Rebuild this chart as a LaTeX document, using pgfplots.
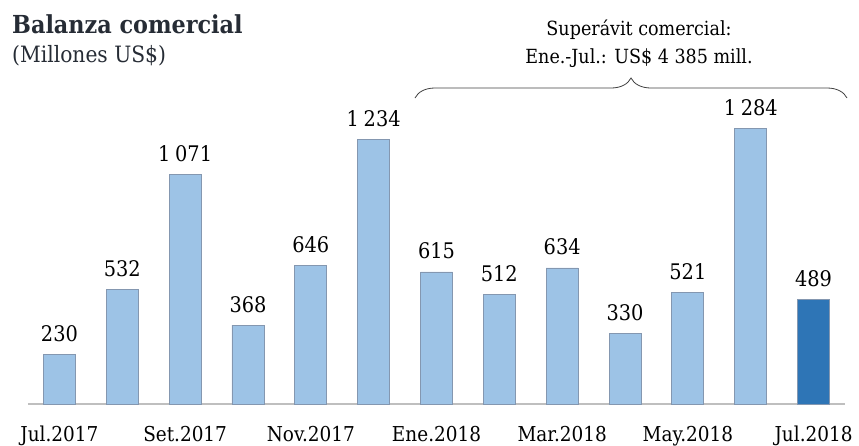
\documentclass[border=0pt]{standalone}
\usepackage{pgfplots}
\pgfplotsset{compat=1.18}
\usepackage{fontspec}
\setmainfont{DejaVu Serif Condensed}
\usetikzlibrary{decorations.pathreplacing}
\definecolor{barlight}{HTML}{9DC3E6}
\definecolor{bardark}{HTML}{2E75B6}
\definecolor{barline}{HTML}{8497B0}
\definecolor{titlecol}{HTML}{262C35}
\definecolor{axisgray}{HTML}{BFBFBF}
\newcommand{\ts}{\hspace{0.22em}}
\begin{document}
\begin{tikzpicture}
\path[use as bounding box] (0,0) rectangle (859pt,-445pt);
\begin{axis}[
  at={(28pt,-404pt)}, anchor=south west,
  scale only axis, width=817pt, height=322pt,
  xmin=-0.5, xmax=12.5, ymin=0, ymax=1500,
  axis x line*=bottom, axis y line=none,
  x axis line style={axisgray, line width=1.5pt, -},
  xtick={0,2,...,12},
  xticklabels={Jul.2017,Set.2017,Nov.2017,Ene.2018,Mar.2018,May.2018,Jul.2018},
  major tick length=0pt,
  xticklabel style={font=\fontsize{20.5}{24}\selectfont, anchor=base, yshift=-37pt},
  clip=false,
  every node near coord/.append style={anchor=base, yshift=13pt, inner sep=0pt, font=\fontsize{21.5}{25}\selectfont, text=black},
]
\addplot[ybar, bar width=32pt, bar shift=0pt, fill=barlight, draw=barline, line width=0.8pt,
  nodes near coords, point meta=explicit symbolic]
coordinates {
(0,230) [230]
(1,532) [532]
(2,1071) [1\ts 071]
(3,368) [368]
(4,646) [646]
(5,1234) [1\ts 234]
(6,615) [615]
(7,512) [512]
(8,634) [634]
(9,330) [330]
(10,521) [521]
(11,1284) [1\ts 284]
};
\addplot[ybar, bar width=32pt, bar shift=0pt, fill=bardark, draw=barline, line width=0.8pt,
  nodes near coords, point meta=explicit symbolic]
coordinates {
(12,489) [489]
};
\end{axis}
\draw[decorate, decoration={brace, amplitude=20pt, aspect=0.5}, draw=black!75, line width=0.8pt] (415pt,-98pt) -- (847pt,-98pt);
\node[anchor=base, inner sep=0pt, font=\fontsize{19.5}{23}\selectfont] at (639pt,-35pt) {Superávit comercial:};
\node[anchor=base, inner sep=0pt, font=\fontsize{19.5}{23}\selectfont] at (639pt,-63pt) {Ene.-Jul.: US\$ 4 385 mill.};
\node[anchor=base west, inner sep=0pt, font=\bfseries\fontsize{24.8}{28}\selectfont, text=titlecol] at (12pt,-33pt) {Balanza comercial};
\node[anchor=base west, inner sep=0pt, font=\fontsize{22.5}{26}\selectfont, text=titlecol] at (12pt,-62pt) {(Millones US\$)};
\end{tikzpicture}
\end{document}
